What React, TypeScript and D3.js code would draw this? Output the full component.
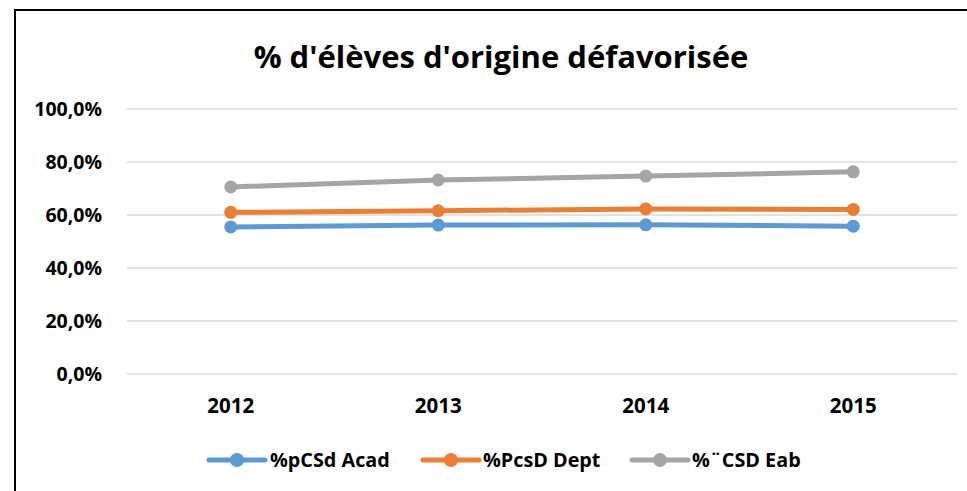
import React from "react";
import * as d3 from "d3";

const categories = ["2012", "2013", "2014", "2015"];
const seriesNames = ["%pCSd Acad", "%PcsD Dept", "%¨CSD Eab"];
const acadValues = [0.555, 0.562, 0.563, 0.558];
const deptValues = [0.61, 0.616, 0.623, 0.621];
const eabValues = [0.706, 0.732, 0.747, 0.763];
const yTicks = [0, 0.2, 0.4, 0.6, 0.8, 1.0];
const colors = ["#5B9BD5", "#ED7D31", "#A5A5A5"];
const titleText = "% d'élèves d'origine défavorisée";

const W = 967;
const H = 491;
const FONT = "'Open Sans', sans-serif";

export default function App() {
  const x = d3.scaleBand<string>().domain(categories).range([127, 957]);
  const y = d3.scaleLinear().domain([0, 1]).range([374, 109]);
  const fmt = (v: number) => (v * 100).toFixed(1).replace(".", ",") + "%";
  const series = [acadValues, deptValues, eabValues];
  const line = d3
    .line<number>()
    .x((_, i) => (x(categories[i]) as number) + x.bandwidth() / 2)
    .y((d) => y(d));

  const legendItems = [
    { lineX: 209, textX: 270 },
    { lineX: 423, textX: 483 },
    { lineX: 632, textX: 692 },
  ];
  const legendY = 460;

  return (
    <svg
      width={W}
      height={H}
      style={{ position: "absolute", left: 0, top: 0, display: "block", background: "#fff" }}
    >
      <rect x={0} y={0} width={W} height={H} fill="#fff" />
      <rect x={15} y={10} width={W + 20} height={H + 20} fill="#fff" stroke="#000" strokeWidth={2} />
      <text
        x={501}
        y={68}
        textAnchor="middle"
        fontFamily={FONT}
        fontWeight={700}
        fontSize={31}
        fill="#000"
      >
        {titleText}
      </text>
      {yTicks.map((t) => (
        <g key={t}>
          <line x1={127} x2={957} y1={y(t)} y2={y(t)} stroke="#D9D9D9" strokeWidth={1.5} />
          <text
            x={102}
            y={y(t)}
            dy="0.35em"
            textAnchor="end"
            fontFamily={FONT}
            fontWeight={700}
            fontSize={19.5}
            fill="#000"
          >
            {fmt(t)}
          </text>
        </g>
      ))}
      {categories.map((c) => (
        <text
          key={c}
          x={(x(c) as number) + x.bandwidth() / 2}
          y={413}
          textAnchor="middle"
          fontFamily={FONT}
          fontWeight={700}
          fontSize={20.5}
          fill="#000"
        >
          {c}
        </text>
      ))}
      {series.map((vals, si) => (
        <g key={si}>
          <path d={line(vals) || ""} fill="none" stroke={colors[si]} strokeWidth={5} strokeLinecap="round" strokeLinejoin="round" />
          {vals.map((v, i) => (
            <circle
              key={i}
              cx={(x(categories[i]) as number) + x.bandwidth() / 2}
              cy={y(v)}
              r={6.5}
              fill={colors[si]}
            />
          ))}
        </g>
      ))}
      {legendItems.map((it, i) => (
        <g key={i}>
          <line x1={it.lineX} x2={it.lineX + 56} y1={legendY} y2={legendY} stroke={colors[i]} strokeWidth={5} strokeLinecap="round" />
          <circle cx={it.lineX + 28} cy={legendY} r={7} fill={colors[i]} />
          <text
            x={it.textX}
            y={legendY}
            dy="0.35em"
            fontFamily={FONT}
            fontWeight={700}
            fontSize={19.8}
            fill="#000"
          >
            {seriesNames[i]}
          </text>
        </g>
      ))}
    </svg>
  );
}
